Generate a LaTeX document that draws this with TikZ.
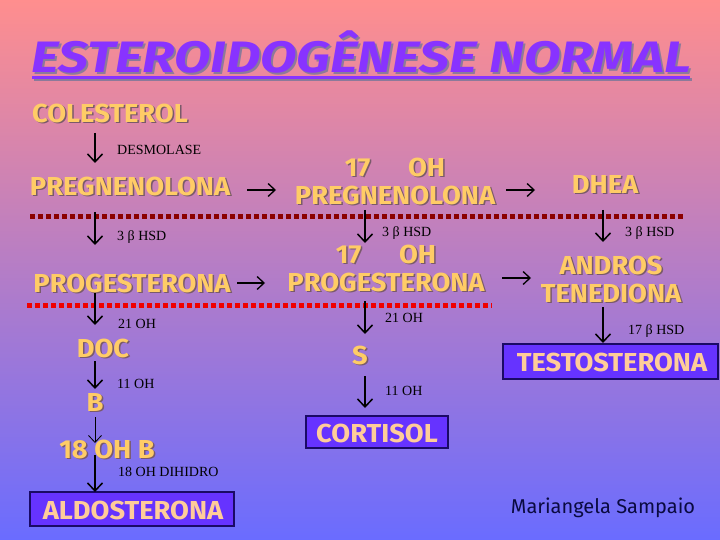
\documentclass[tikz,border=0pt]{standalone}
\usepackage{fontspec}
\setmainfont{Liberation Serif}
\newfontfamily\comic{Fira Sans}
\usetikzlibrary{arrows.meta}
\definecolor{bgtop}{HTML}{FF8E8E}
\definecolor{bgmid}{HTML}{C07AD8}
\definecolor{bgbot}{HTML}{6A6CFF}
\definecolor{lblcol}{HTML}{FFCC66}
\definecolor{boxtxt}{HTML}{FFCC99}
\definecolor{shcol}{HTML}{7A5A6A}
\definecolor{titcol}{HTML}{8833FF}
\definecolor{titsh}{HTML}{8C7A9A}
\definecolor{boxfill}{HTML}{6633FF}
\definecolor{boxline}{HTML}{1A0A66}
\definecolor{darkred}{HTML}{8B0000}
\definecolor{brightred}{HTML}{F00000}
\definecolor{author}{HTML}{0A0A40}
\tikzset{
  lbl/.style={font=\comic\bfseries\fontsize{26}{28}\selectfont, text=lblcol, inner sep=0pt, align=center, xscale=1.05, transform shape},
  lblsh/.style={lbl, text=shcol},
  titl/.style={font=\comic\bfseries\itshape\fontsize{44}{48}\selectfont, inner sep=0pt, anchor=base, xscale=1.21, transform shape},
  enz/.style={font=\fontsize{14}{16}\selectfont, text=black, inner sep=0pt, anchor=west},
  darr/.style={line width=1.5pt, -{Straight Barb[length=8pt,width=15pt,line width=1.5pt]}},
  thinarr/.style={line width=0.8pt, -{Straight Barb[length=7pt,width=13pt,line width=0.8pt]}},
  rarr/.style={line width=1.3pt, -{Straight Barb[length=7pt,width=13pt,line width=1.3pt]}},
  endbox/.style={draw=boxline, line width=1.2pt, fill=boxfill, inner sep=0pt},
  boxlbl/.style={lbl, text=boxtxt},
  dotline/.style={line width=5pt, dash pattern=on 5pt off 3pt},
}
\newcommand\slab[4]{%
  \node[lblsh] (#1s) at ([xshift=1.5pt,yshift=-1.5pt]#2,#3) {#4};
  \node[lbl] (#1) at (#2,#3) {#4};}
\newcommand\blab[4]{%
  \node[boxlbl] (#1) at (#2,#3) {#4};}
\begin{document}
\begin{tikzpicture}[x=1pt,y=-1pt]
\useasboundingbox (0,0) rectangle (720,540);
\shade[top color=bgtop, middle color=bgmid, bottom color=bgbot] (0,0) rectangle (720,540);

% title
\node[titl, text=titsh] (titles) at (363.5,75) {ESTEROIDOGÊNESE NORMAL};
\node[titl, text=titcol] (title) at (361.5,73) {ESTEROIDOGÊNESE NORMAL};
\coordinate (ul1) at (32,77.5); \coordinate (ul2) at (690,77.5);
\coordinate (ul1s) at (34,80); \coordinate (ul2s) at (692,80);
\draw[titsh, line width=3pt] (ul1s) -- (ul2s);
\draw[titcol, line width=3pt] (ul1) -- (ul2);

% dotted separators
\coordinate (d1a) at (30,217); \coordinate (d1b) at (685,217);
\coordinate (d2a) at (27,305); \coordinate (d2b) at (492,305);
\draw[dotline, darkred] (d1a) -- (d1b);
\draw[dotline, brightred] (d2a) -- (d2b);

% labels
\slab{col}{110}{113}{COLESTEROL}
\slab{preg}{130}{186}{PREGNENOLONA}
\slab{ohpreg}{395}{181}{17\hspace{36pt}OH\\PREGNENOLONA}
\slab{dhea}{605}{184}{DHEA}
\slab{prog}{132}{283}{PROGESTERONA}
\slab{ohprog}{386}{268}{17\hspace{36pt}OH\\PROGESTERONA}
\slab{andr}{611}{279}{ANDROS\\TENEDIONA}
\slab{doc}{103}{348}{DOC}
\slab{b}{95}{402}{B}
\slab{ohb}{107}{449}{18 OH B}
\slab{s}{360}{355}{S}

% end boxes
\node[endbox, minimum width=204pt, minimum height=34pt] (aldobox) at (132,509) {};
\blab{aldo}{133}{510}{ALDOSTERONA}
\node[endbox, minimum width=142pt, minimum height=32pt] (cortbox) at (377,432) {};
\blab{cort}{377}{433}{CORTISOL}
\node[endbox, minimum width=215pt, minimum height=35pt] (testbox) at (610.5,361.5) {};
\blab{test}{612}{362}{TESTOSTERONA}

% enzyme labels
\node[enz] (e1) at (117,150) {DESMOLASE};
\node[enz] (e2) at (117,237) {3 β HSD};
\node[enz] (e3) at (382,233) {3 β HSD};
\node[enz] (e4) at (625,233) {3 β HSD};
\node[enz] (e5) at (118,324) {21 OH};
\node[enz] (e6) at (385,318) {21 OH};
\node[enz] (e7) at (628,331) {17 β HSD};
\node[enz] (e8) at (117,384) {11 OH};
\node[enz] (e9) at (385,391) {11 OH};
\node[enz] (e10) at (118,472) {18 OH DIHIDRO};

% author
\node[font=\comic\fontsize{20}{24}\selectfont, text=author, inner sep=0pt] (auth) at (603,508) {Mariangela Sampaio};

% down arrows
\coordinate (a1s) at (95,133); \coordinate (a1e) at (95,163);
\coordinate (a2s) at (95,212); \coordinate (a2e) at (95,245);
\coordinate (a3s) at (365,210); \coordinate (a3e) at (365,243);
\coordinate (a4s) at (603,210); \coordinate (a4e) at (603,242);
\coordinate (a5s) at (95,293); \coordinate (a5e) at (95,325);
\coordinate (a6s) at (365,301); \coordinate (a6e) at (365,334);
\coordinate (a7s) at (603,307); \coordinate (a7e) at (603,343);
\coordinate (a8s) at (95,361); \coordinate (a8e) at (95,389);
\coordinate (a9s) at (95,417); \coordinate (a9e) at (95,443);
\coordinate (a10s) at (95,455); \coordinate (a10e) at (95,492);
\coordinate (a11s) at (365,376); \coordinate (a11e) at (365,408);
\foreach \i in {1,2,3,4,5,6,7,8,10,11} {\draw[darr] (a\i s) -- (a\i e);}
\draw[thinarr] (a9s) -- (a9e);

% right arrows
\coordinate (r1s) at (247,190); \coordinate (r1e) at (276,190);
\coordinate (r2s) at (506,190); \coordinate (r2e) at (535,190);
\coordinate (r3s) at (237,283); \coordinate (r3e) at (265,283);
\coordinate (r4s) at (502,278); \coordinate (r4e) at (531,278);
\foreach \i in {1,2,3,4} {\draw[rarr] (r\i s) -- (r\i e);}
\end{tikzpicture}
\end{document}
